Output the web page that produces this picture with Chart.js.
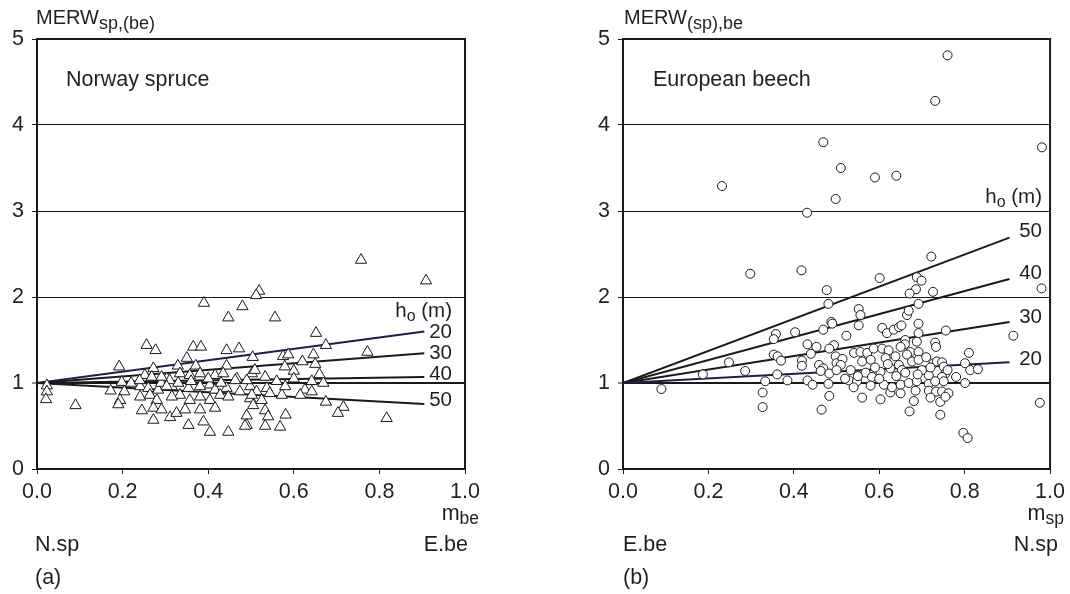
<!DOCTYPE html>
<html><head><meta charset="utf-8">
<script src="https://cdn.jsdelivr.net/npm/chart.js@4.4.0/dist/chart.umd.min.js"></script>
<style>
html,body{margin:0;padding:0;background:#fff;}
#wrap{position:relative;width:1070px;height:594px;overflow:hidden;}
canvas{position:absolute;top:0;}
</style></head><body>
<div id="wrap">
<canvas id="c1" width="535" height="594" style="left:0"></canvas>
<canvas id="c2" width="535" height="594" style="left:535px"></canvas>
</div>
<script>
// ---------- DATA ----------
const xTicks = [0, 0.2, 0.4, 0.6, 0.8, 1.0];
const yTicks = [0, 1, 2, 3, 4, 5];
const heights = [20, 30, 40, 50];
const lineEndM = 0.905;
const spruceLineEnd = [1.60, 1.345, 1.07, 0.756];
const beechLineEnd = [1.24, 1.71, 2.21, 2.69];

// Norway spruce: m_be and MERW_sp,(be)
const spruceM = [0.519,0.512,0.390,0.480,0.447,0.556,0.256,0.277,0.365,0.383,0.443,0.472,0.504,0.350,0.192,0.272,0.329,0.371,0.443,0.023,0.023,0.021,0.090,0.172,0.198,0.204,0.194,0.190,0.245,0.272,0.311,0.354,0.389,0.404,0.447,0.490,0.490,0.533,0.568,0.533,
0.252,0.268,0.303,0.334,0.357,0.381,0.416,0.435,0.467,0.502,0.241,0.260,0.283,0.315,0.334,0.354,0.381,0.404,0.416,0.443,0.463,0.474,0.498,0.513,0.241,0.264,0.280,0.315,0.357,0.381,0.404,0.428,0.447,0.498,0.272,0.291,0.326,0.346,0.381,0.416,0.505,0.509,
0.652,0.675,0.772,0.575,0.587,0.646,0.579,0.600,0.650,0.533,0.560,0.642,0.669,0.490,0.537,0.626,0.642,0.502,0.525,0.544,0.572,0.615,0.675,0.716,0.703,0.540,0.581,0.486,0.757,0.909,0.817,
0.22,0.29,0.31,0.36,0.40,0.43,0.60,0.58,0.66,0.62,0.291,0.24,0.33,0.303];
const spruceMERW = [2.07,2.02,1.93,1.89,1.76,1.76,1.44,1.38,1.42,1.42,1.38,1.40,1.30,1.29,1.19,1.17,1.20,1.20,1.20,0.97,0.90,0.81,0.74,0.91,1.01,0.90,0.80,0.75,0.68,0.57,0.60,0.51,0.55,0.43,0.43,0.62,0.51,0.50,0.49,0.68,
1.09,1.07,1.05,1.11,1.09,1.11,1.09,1.11,1.05,1.11,0.96,0.94,0.92,0.96,0.86,0.94,0.96,0.98,0.92,0.94,1.03,0.90,0.96,0.90,0.84,0.86,0.80,0.84,0.80,0.84,0.80,0.86,0.84,0.82,0.71,0.69,0.65,0.69,0.69,0.71,0.74,1.15,
1.58,1.44,1.36,1.31,1.33,1.33,1.19,1.14,1.22,1.07,1.02,1.02,1.00,1.03,0.94,0.92,0.90,0.86,0.80,0.88,0.86,0.86,0.78,0.72,0.65,0.61,0.63,0.50,2.43,2.19,0.59,
1.00,1.00,1.03,1.02,1.05,1.00,1.05,0.96,1.10,1.25,1.07,1.03,1.00,0.96];

// European beech: m_sp and MERW_(sp),be
const beechM = [0.760,0.731,0.469,0.981,0.510,0.590,0.640,0.232,0.498,0.431,0.298,0.418,0.477,0.481,0.488,0.490,0.469,0.358,0.353,0.403,0.432,0.453,0.494,0.483,0.248,0.353,0.362,0.370,0.440,0.419,0.419,0.459,0.498,0.500,0.469,0.463,0.483,0.187,0.286,0.361,0.090,0.333,0.385,0.432,0.444,0.481,0.327,0.483,0.327,0.465,
0.722,0.601,0.688,0.699,0.686,0.671,0.726,0.980,0.692,0.552,0.556,0.552,0.665,0.669,0.607,0.618,0.634,0.646,0.652,0.692,0.692,0.756,0.914,0.523,0.661,0.660,0.688,0.731,0.733,0.541,0.556,0.572,0.587,0.607,0.622,0.650,0.673,0.692,0.514,0.510,0.560,0.580,0.615,0.638,0.665,0.677,0.692,
0.533,0.568,0.583,0.603,0.626,0.646,0.653,0.661,0.716,0.727,0.735,0.747,0.751,0.755,0.747,0.751,0.801,0.810,0.813,0.831,0.801,0.529,0.548,0.611,0.650,0.669,0.688,0.716,0.731,0.560,0.603,0.626,0.650,0.685,0.716,0.733,0.747,0.762,0.681,0.720,0.743,0.755,0.671,0.743,0.797,0.807,0.976,
0.52,0.54,0.50,0.55,0.58,0.60,0.62,0.70,0.71,0.64,0.59,0.63,0.72,0.69,0.76,0.78];
const beechMERW = [4.81,4.28,3.80,3.74,3.50,3.39,3.41,3.29,3.14,2.98,2.27,2.31,2.08,1.92,1.71,1.69,1.62,1.57,1.51,1.59,1.45,1.42,1.44,1.40,1.24,1.33,1.31,1.26,1.34,1.26,1.20,1.21,1.31,1.23,1.17,1.14,1.11,1.10,1.14,1.10,0.93,1.02,1.03,1.03,0.98,0.99,0.89,0.85,0.72,0.69,
2.47,2.22,2.23,2.19,2.09,2.04,2.06,2.10,1.92,1.86,1.79,1.67,1.79,1.84,1.64,1.58,1.62,1.65,1.67,1.69,1.58,1.61,1.55,1.55,1.50,1.45,1.48,1.47,1.42,1.35,1.36,1.35,1.40,1.40,1.38,1.42,1.36,1.36,1.28,1.21,1.25,1.27,1.29,1.31,1.33,1.25,1.27,
1.15,1.12,1.07,1.13,1.17,1.21,1.15,1.12,1.09,1.23,1.25,1.24,1.19,1.11,1.07,1.02,1.23,1.35,1.15,1.16,1.00,1.03,1.02,0.98,0.98,1.00,1.02,0.99,1.02,0.83,0.81,0.89,0.88,0.91,0.91,0.90,0.90,0.88,0.79,0.83,0.78,0.84,0.67,0.63,0.42,0.36,0.77,
1.05,0.95,1.15,1.08,0.97,1.05,1.22,1.15,1.30,1.08,1.18,0.95,1.18,1.10,1.15,1.07];

// ---------- DRAWING ----------
const FONT = "'Liberation Sans', Arial, Helvetica, sans-serif";
const INK = '#231f20';
const LINE_COLORS = ['#2a1848', '#1a1a1a', '#1a1a1a', '#1a1a1a'];

function pts(xs, ys) { return xs.map((x, i) => ({ x: x, y: ys[i] })); }

function drawRich(ctx, x, y, segs, align) {
  let w = 0;
  segs.forEach(s => { ctx.font = s.size + 'px ' + FONT; s.w = ctx.measureText(s.t).width; w += s.w; });
  let cx = align === 'right' ? x - w : x;
  ctx.fillStyle = INK;
  ctx.textAlign = 'left';
  ctx.textBaseline = 'alphabetic';
  segs.forEach(s => { ctx.font = s.size + 'px ' + FONT; ctx.fillText(s.t, cx, y + (s.dy || 0)); cx += s.w; });
}

function makeChart(id, offset, yWidth, rightPad, xs, ys, style, radius, lineEnds, texts) {
  const datasets = [{
    type: 'scatter',
    data: pts(xs, ys),
    pointStyle: style,
    pointRadius: radius,
    pointBackgroundColor: '#ffffff',
    pointBorderColor: '#1a1a1a',
    pointBorderWidth: 1,
    order: 1
  }];
  heights.forEach((h, i) => {
    datasets.push({
      type: 'line',
      data: [{ x: 0, y: 1 }, { x: lineEndM, y: lineEnds[i] }],
      borderColor: LINE_COLORS[i],
      borderWidth: 2,
      pointRadius: 0,
      fill: false,
      order: 2
    });
  });
  const textPlugin = {
    id: 'texts' + id,
    afterDraw(chart) {
      const ctx = chart.ctx;
      const a = chart.chartArea;
      ctx.save();
      ctx.strokeStyle = '#1a1a1a';
      ctx.lineWidth = 2;
      ctx.strokeRect(a.left, a.top, a.right - a.left, a.bottom - a.top);
      texts.forEach(t => drawRich(ctx, t.x - offset, t.y, t.segs, t.align));
      ctx.restore();
    }
  };
  return new Chart(document.getElementById(id), {
    type: 'scatter',
    data: { datasets },
    options: {
      responsive: false,
      animation: false,
      devicePixelRatio: 1,
      layout: { padding: { left: 0, top: 39, right: rightPad, bottom: 0 } },
      plugins: { legend: { display: false }, tooltip: { enabled: false } },
      scales: {
        x: {
          type: 'linear', min: 0, max: 1,
          afterFit: s => { s.height = 125; },
          afterBuildTicks: s => { s.ticks = xTicks.map(v => ({ value: v })); },
          ticks: { callback: v => v.toFixed(1), color: INK, font: { family: FONT, size: 21.5 }, padding: 5, maxRotation: 0 },
          grid: { drawOnChartArea: false, drawTicks: true, tickLength: 5, tickColor: '#1a1a1a', tickWidth: 1 },
          border: { display: false }
        },
        y: {
          type: 'linear', min: 0, max: 5,
          afterFit: s => { s.width = yWidth; },
          afterBuildTicks: s => { s.ticks = yTicks.map(v => ({ value: v })); },
          ticks: { color: INK, font: { family: FONT, size: 21.5 }, padding: 8 },
          grid: {
            color: c => (c.tick && (c.tick.value === 0 || c.tick.value === 5)) ? 'rgba(0,0,0,0)' : '#1a1a1a',
            lineWidth: c => (c.tick && c.tick.value === 1) ? 2 : 1,
            drawTicks: true, tickLength: 5, tickColor: '#1a1a1a', tickWidth: 1
          },
          border: { display: false }
        }
      }
    },
    plugins: [textPlugin]
  });
}

const BIG = 21.5, SUB = 17.5, LBL = 20.5;
const hLabel = [{ t: 'h', size: LBL }, { t: 'o', size: 16, dy: 4 }, { t: ' (m)', size: LBL }];

makeChart('c1', 0, 37, 70, spruceM, spruceMERW, 'triangle', 6.5, spruceLineEnd, [
  { x: 36, y: 24, segs: [{ t: 'MERW', size: 20 }, { t: 'sp,(be)', size: 18, dy: 5 }] },
  { x: 66, y: 86, segs: [{ t: 'Norway spruce', size: BIG }] },
  { x: 452, y: 317, segs: hLabel, align: 'right' },
  { x: 452, y: 338, segs: [{ t: String(heights[0]), size: LBL }], align: 'right' },
  { x: 452, y: 359, segs: [{ t: String(heights[1]), size: LBL }], align: 'right' },
  { x: 452, y: 380, segs: [{ t: String(heights[2]), size: LBL }], align: 'right' },
  { x: 452, y: 406, segs: [{ t: String(heights[3]), size: LBL }], align: 'right' },
  { x: 479, y: 520, segs: [{ t: 'm', size: BIG }, { t: 'be', size: SUB, dy: 4 }], align: 'right' },
  { x: 35, y: 551, segs: [{ t: 'N.sp', size: BIG }] },
  { x: 468, y: 551, segs: [{ t: 'E.be', size: BIG }], align: 'right' },
  { x: 35, y: 584, segs: [{ t: '(a)', size: BIG }] }
]);

makeChart('c2', 535, 88, 18, beechM, beechMERW, 'circle', 4.5, beechLineEnd, [
  { x: 624, y: 24, segs: [{ t: 'MERW', size: 20 }, { t: '(sp),be', size: 18, dy: 5 }] },
  { x: 653, y: 86, segs: [{ t: 'European beech', size: BIG }] },
  { x: 1042, y: 203, segs: hLabel, align: 'right' },
  { x: 1042, y: 237, segs: [{ t: String(heights[3]), size: LBL }], align: 'right' },
  { x: 1042, y: 279, segs: [{ t: String(heights[2]), size: LBL }], align: 'right' },
  { x: 1042, y: 323, segs: [{ t: String(heights[1]), size: LBL }], align: 'right' },
  { x: 1042, y: 365, segs: [{ t: String(heights[0]), size: LBL }], align: 'right' },
  { x: 1064, y: 520, segs: [{ t: 'm', size: BIG }, { t: 'sp', size: SUB, dy: 4 }], align: 'right' },
  { x: 623, y: 551, segs: [{ t: 'E.be', size: BIG }] },
  { x: 1058, y: 551, segs: [{ t: 'N.sp', size: BIG }], align: 'right' },
  { x: 623, y: 584, segs: [{ t: '(b)', size: BIG }] }
]);
</script>
</body></html>
